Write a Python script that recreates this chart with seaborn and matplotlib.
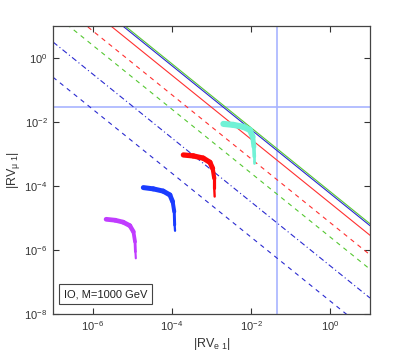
import numpy as np
import pandas as pd
import matplotlib
matplotlib.use("Agg")
import matplotlib.pyplot as plt
import seaborn as sns

# bounds |RV_e1| * |RV_mu1| = 10**log_prod
bound_names = ["green solid", "blue solid", "red solid", "red dashed",
               "green dashed", "blue dashdot", "blue dashed"]
bound_log_prod = [-4.18, -4.24, -4.54, -5.15, -5.60, -6.50, -7.60]
bound_colors = ["#55c832", "#2a2ad0", "#ff3030", "#ff3030", "#55c832", "#2a2ad0", "#2a2ad0"]
bound_styles = ["-", "-", "-", (0, (4, 4)), (0, (4, 4)), (0, (5, 2.5, 1, 2.5)), (0, (4, 4))]

# separate limits on each coupling
limit_e = 0.046
limit_mu = 0.029

# allowed regions (centre line of each band), log10 values
band_names = ["purple", "blue", "red", "cyan"]
band_log_x = [
    [-5.66, -5.43, -5.23, -5.06, -4.97, -4.93, -4.92, -4.91],
    [-4.72, -4.47, -4.22, -4.05, -3.98, -3.94, -3.93, -3.92],
    [-3.71, -3.46, -3.21, -3.04, -2.97, -2.93, -2.93, -2.92],
    [-2.70, -2.45, -2.20, -2.03, -1.96, -1.93, -1.92, -1.92],
]
band_log_y = [
    [-5.04, -5.07, -5.13, -5.24, -5.43, -5.74, -6.05, -6.26],
    [-4.05, -4.09, -4.16, -4.28, -4.49, -4.80, -5.22, -5.40],
    [-3.03, -3.06, -3.13, -3.26, -3.45, -3.76, -4.07, -4.33],
    [-2.06, -2.09, -2.15, -2.25, -2.46, -2.77, -3.08, -3.27],
]
band_colors = ["#c03cff", "#1a3cff", "#ff0808", "#72f2d6"]
band_widths = [3.4, 3.6, 3.8, 4.4]
taper = [1.0, 1.0, 1.0, 0.95, 0.8, 0.6, 0.45]

xlim = (1e-7, 1e1)
ylim = (1e-8, 1e1)

sns.set_style("ticks")
plt.rcParams["font.family"] = ["Liberation Sans", "DejaVu Sans"]
plt.rcParams["mathtext.fontset"] = "custom"
plt.rcParams["mathtext.rm"] = "Liberation Sans"
plt.rcParams["mathtext.it"] = "Liberation Sans:italic"

fig = plt.figure(figsize=(4.09, 3.54), dpi=100)
ax = fig.add_axes([0.1296, 0.113, 0.775, 0.8136])

# diagonal bounds
for name, lp, c, ls in zip(bound_names, bound_log_prod, bound_colors, bound_styles):
    xs = np.array(xlim)
    df = pd.DataFrame({"x": xs, "y": 10 ** lp / xs})
    sns.lineplot(data=df, x="x", y="y", ax=ax, color=c, linewidth=0.8,
                 linestyle=ls, sort=False, estimator=None)

ax.axvline(limit_e, color="#a8b4ff", linewidth=1.2, zorder=1)
ax.axhline(limit_mu, color="#a8b4ff", linewidth=1.2, zorder=1)

# allowed bands, drawn segment by segment so the tail gets thinner
for name, lx, ly, c, w in zip(band_names, band_log_x, band_log_y, band_colors, band_widths):
    df = pd.DataFrame({"x": 10 ** np.array(lx), "y": 10 ** np.array(ly)})
    for i, t in enumerate(taper):
        sns.lineplot(data=df.iloc[i:i + 2], x="x", y="y", ax=ax, color=c,
                     linewidth=w * t, sort=False, estimator=None,
                     solid_capstyle="round", zorder=3)

ax.set_xscale("log")
ax.set_yscale("log")
ax.set_xlim(*xlim)
ax.set_ylim(*ylim)
ax.set_xticks([1e-6, 1e-4, 1e-2, 1e0])
ax.set_yticks([1e-8, 1e-6, 1e-4, 1e-2, 1e0])
ax.minorticks_off()
ax.tick_params(direction="in", top=True, right=True, length=4, width=0.8,
               labelsize=8, colors="#333333", pad=4)
for s in ax.spines.values():
    s.set_color("#444444")
    s.set_linewidth(0.9)

ax.set_xlabel(r"$|\mathrm{RV}_{\mathrm{e\ 1}}|$", fontsize=9, color="#333333", labelpad=2)
ax.set_ylabel(r"$|\mathrm{RV}_{\mathrm{\mu\ 1}}|$", fontsize=9, color="#333333", labelpad=2)

ax.text(0.035, 0.069, "IO, M=1000 GeV", transform=ax.transAxes, fontsize=8,
        color="#222222", va="center", ha="left",
        bbox=dict(boxstyle="square,pad=0.45", facecolor="white", edgecolor="#444444",
                  linewidth=0.8))

fig.savefig("out.png", dpi=100)
